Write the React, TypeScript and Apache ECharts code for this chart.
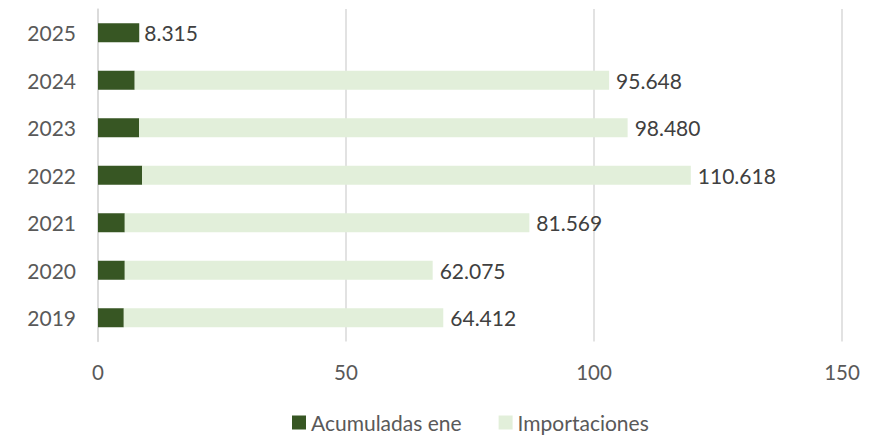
import React, { useEffect, useRef } from "react";
import * as echarts from "echarts";

const years = ["2019", "2020", "2021", "2022", "2023", "2024", "2025"];
const acumuladasEne = [5.2, 5.4, 5.4, 8.9, 8.3, 7.4, 8.315];
const importaciones: (number | null)[] = [64.412, 62.075, 81.569, 110.618, 98.48, 95.648, null];
const xTicks = { min: 0, max: 150, interval: 50 };

const FONT = "Lato";
const TEXT = "#595959";

export default function App() {
  const ref = useRef<HTMLDivElement>(null);
  useEffect(() => {
    if (!ref.current) return;
    const chart = echarts.init(ref.current, undefined, { renderer: "svg" });
    chart.setOption({
      animation: false,
      textStyle: { fontFamily: FONT },
      grid: { left: 98, right: 47, top: 9, bottom: 94.5, containLabel: false },
      legend: {
        left: 287,
        top: 407,
        padding: 5,
        itemWidth: 14,
        itemHeight: 14,
        itemGap: 37,
        icon: "rect",
        textStyle: { fontFamily: FONT, fontSize: 21, lineHeight: 18, color: TEXT },
        data: ["Acumuladas ene", "Importaciones"],
      },
      xAxis: {
        type: "value",
        min: xTicks.min,
        max: xTicks.max,
        interval: xTicks.interval,
        axisLine: { show: false },
        axisTick: { show: false },
        splitLine: { lineStyle: { color: "#D9D9D9", width: 1.5 } },
        axisLabel: { color: TEXT, fontFamily: FONT, fontSize: 20.5, margin: 20 },
      },
      yAxis: {
        type: "category",
        data: years,
        axisLine: { show: true, lineStyle: { color: "#D9D9D9", width: 1.5 } },
        axisTick: { show: false },
        axisLabel: { color: TEXT, fontFamily: FONT, fontSize: 21, margin: 22 },
      },
      series: [
        {
          name: "Acumuladas ene",
          type: "bar",
          stack: "total",
          barWidth: 19,
          itemStyle: { color: "#375623" },
          data: acumuladasEne.map((v, i) => ({
            value: v,
            label: {
              show: importaciones[i] == null,
              position: "right",
              distance: 5,
              formatter: (p: any) => Number(p.value).toFixed(3),
              color: "#404040",
              fontFamily: FONT,
              fontSize: 21,
            },
          })),
        },
        {
          name: "Importaciones",
          type: "bar",
          stack: "total",
          barWidth: 19,
          itemStyle: { color: "#E2EFDA" },
          label: {
            show: true,
            position: "right",
            distance: 7,
            formatter: (p: any) => (p.value == null ? "" : Number(p.value).toFixed(3)),
            color: "#404040",
            fontFamily: FONT,
            fontSize: 21,
          },
          data: importaciones,
        },
      ],
    });
    return () => chart.dispose();
  }, []);
  return (
    <div
      ref={ref}
      style={{ position: "fixed", left: 0, top: 0, width: 889, height: 436, background: "#fff" }}
    />
  );
}
